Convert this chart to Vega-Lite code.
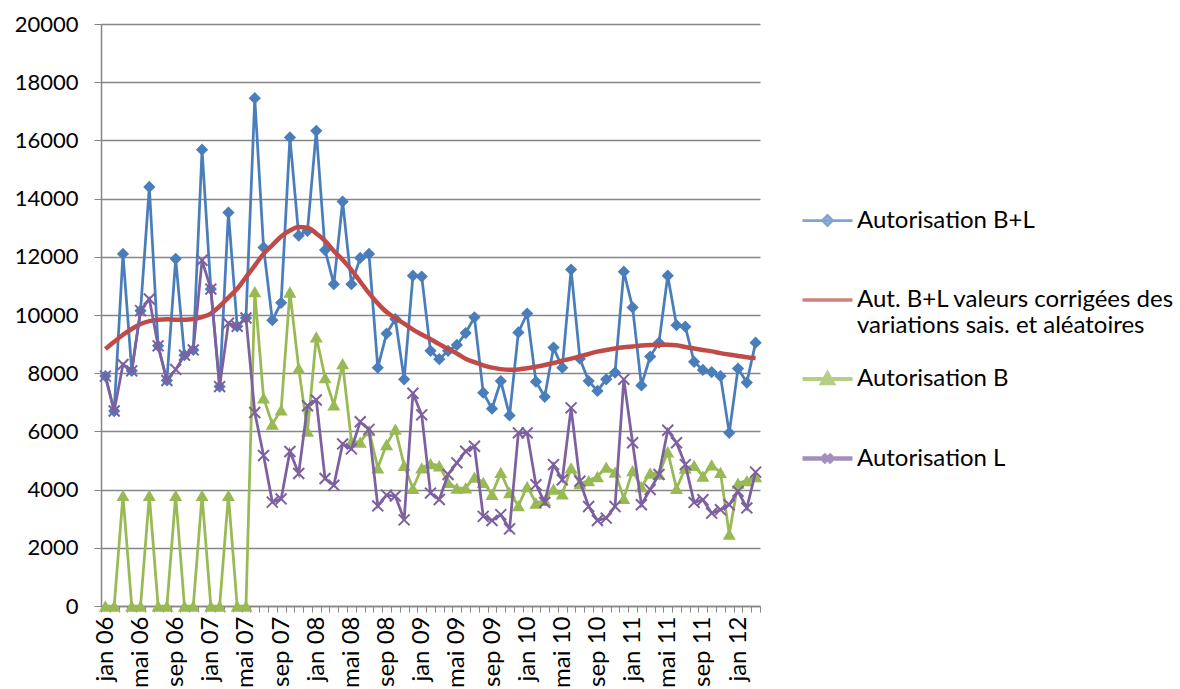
{
  "$schema": "https://vega.github.io/schema/vega-lite/v6.json",
  "width": 659,
  "height": 582,
  "autosize": {"type": "none"},
  "padding": {"left": 101, "top": 24, "right": 420, "bottom": 83},
  "background": "white",
  "config": {
    "view": {"stroke": null},
    "font": "Lato",
    "axisX": {"grid": false, "domainColor": "#868686", "domainWidth": 1.5, "tickColor": "#868686", "tickSize": 6, "labelFontSize": 24, "labelColor": "black", "labelFont": "Lato", "title": null},
    "axisY": {"grid": true, "gridColor": "#868686", "gridWidth": 1.3, "domainColor": "#868686", "domainWidth": 1.5, "tickColor": "#868686", "tickSize": 7, "labelFontSize": 22, "labelColor": "black", "labelFont": "Lato", "labelPadding": 16, "title": null}
  },
  "data": {"values": [
    {"mois": "jan 06", "BL": 7900, "T": 8830, "B": 0, "L": 7900},
    {"mois": "fév 06", "BL": 6700, "T": 9080, "B": 0, "L": 6700},
    {"mois": "mar 06", "BL": 12100, "T": 9320, "B": 3800, "L": 8300},
    {"mois": "avr 06", "BL": 8080, "T": 9520, "B": 0, "L": 8080},
    {"mois": "mai 06", "BL": 10150, "T": 9690, "B": 0, "L": 10150},
    {"mois": "jun 06", "BL": 14400, "T": 9790, "B": 3800, "L": 10550},
    {"mois": "jul 06", "BL": 8940, "T": 9840, "B": 0, "L": 8940},
    {"mois": "aoû 06", "BL": 7750, "T": 9850, "B": 0, "L": 7750},
    {"mois": "sep 06", "BL": 11930, "T": 9840, "B": 3800, "L": 8130},
    {"mois": "oct 06", "BL": 8620, "T": 9840, "B": 0, "L": 8620},
    {"mois": "nov 06", "BL": 8800, "T": 9860, "B": 0, "L": 8800},
    {"mois": "déc 06", "BL": 15680, "T": 9930, "B": 3800, "L": 11880},
    {"mois": "jan 07", "BL": 10890, "T": 10050, "B": 0, "L": 10890},
    {"mois": "fév 07", "BL": 7540, "T": 10300, "B": 0, "L": 7540},
    {"mois": "mar 07", "BL": 13520, "T": 10600, "B": 3800, "L": 9720},
    {"mois": "avr 07", "BL": 9610, "T": 10900, "B": 0, "L": 9610},
    {"mois": "mai 07", "BL": 9900, "T": 11300, "B": 0, "L": 9900},
    {"mois": "jun 07", "BL": 17450, "T": 11700, "B": 10800, "L": 6650},
    {"mois": "jul 07", "BL": 12320, "T": 12100, "B": 7150, "L": 5170},
    {"mois": "aoû 07", "BL": 9820, "T": 12400, "B": 6250, "L": 3570},
    {"mois": "sep 07", "BL": 10420, "T": 12700, "B": 6740, "L": 3680},
    {"mois": "oct 07", "BL": 16100, "T": 12900, "B": 10790, "L": 5310},
    {"mois": "nov 07", "BL": 12730, "T": 13020, "B": 8175, "L": 4555},
    {"mois": "déc 07", "BL": 12890, "T": 13000, "B": 6010, "L": 6880},
    {"mois": "jan 08", "BL": 16330, "T": 12800, "B": 9250, "L": 7080},
    {"mois": "fév 08", "BL": 12230, "T": 12550, "B": 7850, "L": 4380},
    {"mois": "mar 08", "BL": 11060, "T": 12200, "B": 6910, "L": 4150},
    {"mois": "avr 08", "BL": 13900, "T": 11900, "B": 8330, "L": 5570},
    {"mois": "mai 08", "BL": 11060, "T": 11550, "B": 5660, "L": 5400},
    {"mois": "jun 08", "BL": 11960, "T": 11150, "B": 5630, "L": 6330},
    {"mois": "jul 08", "BL": 12100, "T": 10750, "B": 6030, "L": 6070},
    {"mois": "aoû 08", "BL": 8190, "T": 10400, "B": 4750, "L": 3440},
    {"mois": "sep 08", "BL": 9360, "T": 10100, "B": 5550, "L": 3810},
    {"mois": "oct 08", "BL": 9860, "T": 9900, "B": 6080, "L": 3780},
    {"mois": "nov 08", "BL": 7790, "T": 9700, "B": 4830, "L": 2960},
    {"mois": "déc 08", "BL": 11350, "T": 9500, "B": 4040, "L": 7310},
    {"mois": "jan 09", "BL": 11320, "T": 9330, "B": 4750, "L": 6570},
    {"mois": "fév 09", "BL": 8770, "T": 9170, "B": 4890, "L": 3880},
    {"mois": "mar 09", "BL": 8480, "T": 9000, "B": 4820, "L": 3660},
    {"mois": "avr 09", "BL": 8770, "T": 8830, "B": 4250, "L": 4520},
    {"mois": "mai 09", "BL": 8970, "T": 8680, "B": 4050, "L": 4920},
    {"mois": "jun 09", "BL": 9380, "T": 8500, "B": 4060, "L": 5320},
    {"mois": "jul 09", "BL": 9920, "T": 8380, "B": 4430, "L": 5490},
    {"mois": "aoû 09", "BL": 7330, "T": 8270, "B": 4250, "L": 3080},
    {"mois": "sep 09", "BL": 6780, "T": 8190, "B": 3840, "L": 2940},
    {"mois": "oct 09", "BL": 7730, "T": 8140, "B": 4590, "L": 3140},
    {"mois": "nov 09", "BL": 6550, "T": 8120, "B": 3900, "L": 2650},
    {"mois": "déc 09", "BL": 9400, "T": 8130, "B": 3450, "L": 5950},
    {"mois": "jan 10", "BL": 10050, "T": 8170, "B": 4100, "L": 5950},
    {"mois": "fév 10", "BL": 7710, "T": 8220, "B": 3540, "L": 4170},
    {"mois": "mar 10", "BL": 7190, "T": 8280, "B": 3630, "L": 3560},
    {"mois": "avr 10", "BL": 8880, "T": 8350, "B": 4020, "L": 4860},
    {"mois": "mai 10", "BL": 8190, "T": 8430, "B": 3850, "L": 4340},
    {"mois": "jun 10", "BL": 11560, "T": 8500, "B": 4750, "L": 6810},
    {"mois": "jul 10", "BL": 8500, "T": 8580, "B": 4210, "L": 4290},
    {"mois": "aoû 10", "BL": 7730, "T": 8660, "B": 4310, "L": 3420},
    {"mois": "sep 10", "BL": 7390, "T": 8740, "B": 4450, "L": 2940},
    {"mois": "oct 10", "BL": 7790, "T": 8800, "B": 4770, "L": 3020},
    {"mois": "nov 10", "BL": 8020, "T": 8850, "B": 4600, "L": 3420},
    {"mois": "déc 10", "BL": 11490, "T": 8890, "B": 3700, "L": 7790},
    {"mois": "jan 11", "BL": 10260, "T": 8920, "B": 4650, "L": 5610},
    {"mois": "fév 11", "BL": 7580, "T": 8950, "B": 4100, "L": 3480},
    {"mois": "mar 11", "BL": 8570, "T": 8970, "B": 4570, "L": 4000},
    {"mois": "avr 11", "BL": 9050, "T": 8980, "B": 4530, "L": 4520},
    {"mois": "mai 11", "BL": 11350, "T": 8980, "B": 5300, "L": 6040},
    {"mois": "jun 11", "BL": 9650, "T": 8960, "B": 4040, "L": 5610},
    {"mois": "jul 11", "BL": 9600, "T": 8900, "B": 4740, "L": 4860},
    {"mois": "aoû 11", "BL": 8390, "T": 8850, "B": 4830, "L": 3560},
    {"mois": "sep 11", "BL": 8110, "T": 8800, "B": 4460, "L": 3650},
    {"mois": "oct 11", "BL": 8040, "T": 8750, "B": 4850, "L": 3190},
    {"mois": "nov 11", "BL": 7900, "T": 8690, "B": 4590, "L": 3310},
    {"mois": "déc 11", "BL": 5950, "T": 8640, "B": 2470, "L": 3480},
    {"mois": "jan 12", "BL": 8160, "T": 8590, "B": 4220, "L": 3940},
    {"mois": "fév 12", "BL": 7680, "T": 8550, "B": 4310, "L": 3370},
    {"mois": "mar 12", "BL": 9050, "T": 8520, "B": 4450, "L": 4600}
  ]},
  "encoding": {
    "x": {
      "field": "mois", "type": "ordinal", "sort": null, "bandPosition": 0.5,
      "scale": {"type": "band", "paddingInner": 0, "paddingOuter": 0},
      "axis": {
        "labelAngle": -90, "labelOverlap": false, "tickBand": "extent", "labelPadding": 4,
        "labelExpr": "(substring(datum.value, 0, 3) == 'jan' || substring(datum.value, 0, 3) == 'mai' || substring(datum.value, 0, 3) == 'sep') ? datum.value : ''"
      }
    }
  },
  "layer": [
    {
      "mark": {"type": "line", "color": "#4A7EBB", "strokeWidth": 2.75},
      "encoding": {"y": {"field": "BL", "type": "quantitative", "title": null,
        "scale": {"domain": [0, 20000], "nice": false},
        "axis": {"values": [0, 2000, 4000, 6000, 8000, 10000, 12000, 14000, 16000, 18000, 20000], "format": "d"}}}
    },
    {
      "mark": {"type": "point", "shape": "diamond", "filled": true, "color": "#4A7EBB", "size": 150, "opacity": 1},
      "encoding": {"y": {"field": "BL", "type": "quantitative", "title": null}}
    },
    {
      "mark": {"type": "line", "color": "#BE4B48", "strokeWidth": 4.5, "interpolate": "monotone"},
      "encoding": {"y": {"field": "T", "type": "quantitative", "title": null}}
    },
    {
      "mark": {"type": "line", "color": "#98B954", "strokeWidth": 2.75},
      "encoding": {"y": {"field": "B", "type": "quantitative", "title": null}}
    },
    {
      "mark": {"type": "point", "shape": "triangle-up", "filled": true, "color": "#98B954", "size": 170, "opacity": 1},
      "encoding": {"y": {"field": "B", "type": "quantitative", "title": null}}
    },
    {
      "mark": {"type": "line", "color": "#7D60A0", "strokeWidth": 2.75},
      "encoding": {"y": {"field": "L", "type": "quantitative", "title": null}}
    },
    {
      "mark": {"type": "point", "shape": "M-1,-1L1,1M-1,1L1,-1", "filled": false, "color": "#7D60A0", "strokeWidth": 2, "size": 120, "opacity": 1},
      "encoding": {"y": {"field": "L", "type": "quantitative", "title": null}}
    },
    {
      "transform": [{"filter": "false"}],
      "mark": {"type": "point", "filled": true},
      "encoding": {
        "shape": {"field": "serie", "type": "nominal",
          "scale": {"domain": ["Autorisation B+L", "Aut. B+L valeurs corrigées des variations sais. et aléatoires", "Autorisation B", "Autorisation L"],
            "range": ["M-1,0H1M0,-0.2L0.2,0L0,0.2L-0.2,0Z", "M-1,0H1", "M-1,0H1M-0.22,0.17L0,-0.22L0.22,0.17Z", "M-1,0H1M-0.17,-0.17L0.17,0.17M-0.17,0.17L0.17,-0.17"]},
          "legend": {"title": null, "orient": "none", "legendX": 699, "legendY": 170, "symbolSize": 2500, "labelFontSize": 24, "labelColor": "black", "labelFont": "Lato", "labelLimit": 400, "labelOffset": 2, "rowPadding": 14, "labelBaseline": "middle", "labelLineHeight": 32,
            "labelExpr": "datum.label == 'Aut. B+L valeurs corrigées des variations sais. et aléatoires' ? ['Aut. B+L valeurs corrigées des', 'variations sais. et aléatoires'] : [datum.label, '']"}},
        "fill": {"field": "serie", "type": "nominal",
          "scale": {"domain": ["Autorisation B+L", "Aut. B+L valeurs corrigées des variations sais. et aléatoires", "Autorisation B", "Autorisation L"],
            "range": ["#4A7EBB", "transparent", "#98B954", "#7D60A0"]}},
        "stroke": {"field": "serie", "type": "nominal",
          "scale": {"domain": ["Autorisation B+L", "Aut. B+L valeurs corrigées des variations sais. et aléatoires", "Autorisation B", "Autorisation L"],
            "range": ["#4A7EBB", "#BE4B48", "#98B954", "#7D60A0"]}},
        "strokeWidth": {"field": "serie", "type": "nominal",
          "scale": {"domain": ["Autorisation B+L", "Aut. B+L valeurs corrigées des variations sais. et aléatoires", "Autorisation B", "Autorisation L"],
            "range": [2.75, 4.5, 2.75, 2.75]}}
      }
    }
  ]
}
